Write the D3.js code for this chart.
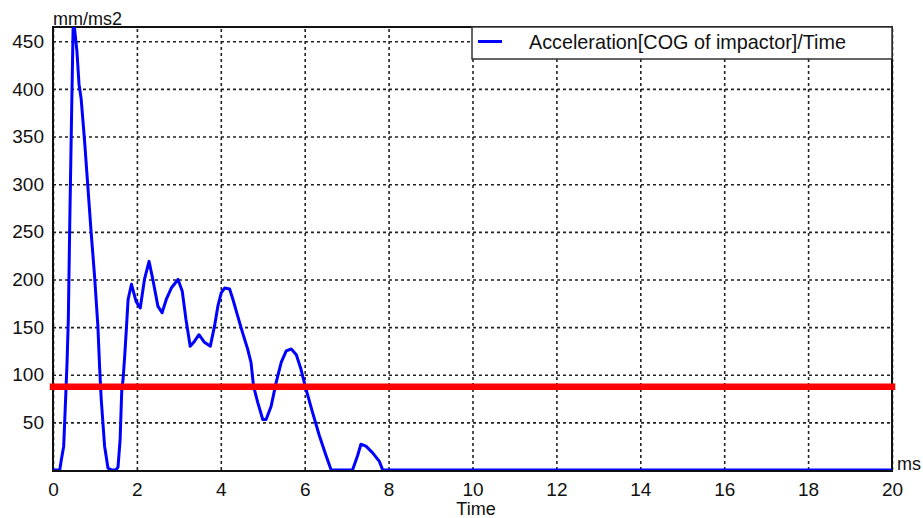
<!DOCTYPE html>
<html>
<head>
<meta charset="utf-8">
<script src="https://cdn.jsdelivr.net/npm/d3@7"></script>
<style>
  body { margin: 0; background: #fff; }
  text { font-family: "Liberation Sans", Arial, sans-serif; fill: #111; }
</style>
</head>
<body>
<svg width="923" height="518"></svg>
<script>
// acceleration of the impactor COG
const time = [0, 0.16, 0.20, 0.255, 0.30, 0.335, 0.365, 0.40, 0.44, 0.48, 0.50, 0.54, 0.57, 0.62, 0.67,
  0.75, 0.83, 0.91, 0.99, 1.07, 1.11, 1.15, 1.23, 1.31, 1.40, 1.50, 1.55, 1.60, 1.64, 1.67, 1.71,
  1.75, 1.79, 1.87, 1.98, 2.08, 2.18, 2.29, 2.38, 2.50, 2.60, 2.70, 2.82, 2.98, 3.08, 3.17, 3.27,
  3.37, 3.48, 3.61, 3.75, 3.85, 3.93, 4.01, 4.09, 4.21, 4.29, 4.40, 4.52, 4.64, 4.72, 4.78, 4.88,
  5.00, 5.08, 5.20, 5.32, 5.44, 5.56, 5.68, 5.80, 5.91, 6.03, 6.19, 6.35, 6.51, 6.63, 7.14, 7.26,
  7.34, 7.46, 7.62, 7.78, 7.86, 20];
const accel = [0, 0, 11, 25, 74, 113, 158, 260, 365, 466, 470, 452, 440, 405, 390,
  347, 298, 249, 204, 151, 109, 74, 25, 2, 0, 0, 3, 32, 85, 95, 120,
  149, 179, 195, 177, 170, 200, 219, 200, 172, 165, 179, 191, 200, 188, 158, 130,
  135, 142, 134, 130, 151, 172, 186, 191, 190, 179, 162, 144, 127, 113, 88, 71,
  53, 53, 67, 92, 113, 125, 127, 121, 106, 85, 60, 36, 15, 0, 0, 15,
  27, 25, 18, 9, 0, 0];
const threshold = 87.5;
const yTicks = [50, 100, 150, 200, 250, 300, 350, 400, 450];
const xTicks = [0, 2, 4, 6, 8, 10, 12, 14, 16, 18, 20];
const seriesName = "Acceleration[COG of impactor]/Time";

const margin = {top: 27, right: 31, bottom: 48, left: 53};
const width = 923, height = 518;
const data = time.map((t, i) => ({t, v: accel[i]}));

const svg = d3.select("svg");

const x = d3.scaleLinear().domain([0, 20]).range([margin.left, width - margin.right]);
const y = d3.scaleLinear().domain([0, 465]).range([height - margin.bottom, margin.top]);

svg.append("clipPath").attr("id", "plot")
  .append("rect")
  .attr("x", margin.left).attr("y", margin.top)
  .attr("width", x(20) - x(0)).attr("height", y(0) - y(465));

// grid + tick labels
const gy = svg.append("g")
  .attr("transform", `translate(${margin.left},0)`)
  .call(d3.axisLeft(y).tickValues(yTicks).tickSize(-(x(20) - x(0))).tickPadding(9));
const gx = svg.append("g")
  .attr("transform", `translate(0,${y(0)})`)
  .call(d3.axisBottom(x).tickValues(xTicks).tickSize(-(y(0) - y(465))).tickPadding(9));

for (const g of [gy, gx]) {
  g.select(".domain").remove();
  g.selectAll(".tick line")
    .attr("stroke", "#222")
    .attr("stroke-width", 1.6)
    .attr("stroke-dasharray", "3,3");
  g.selectAll(".tick text")
    .attr("fill", "#111")
    .style("font-size", "19px")
    .style("font-family", "'Liberation Sans', Arial, sans-serif");
}
gx.selectAll(".tick text").attr("dy", "0.9em");

// frame
svg.append("rect")
  .attr("x", x(0)).attr("y", y(465))
  .attr("width", x(20) - x(0)).attr("height", y(0) - y(465) + 1)
  .attr("fill", "none").attr("stroke", "#111").attr("stroke-width", 2);

// series
const line = d3.line().x(d => x(d.t)).y(d => y(d.v));
svg.append("path")
  .datum(data)
  .attr("clip-path", "url(#plot)")
  .attr("fill", "none")
  .attr("stroke", "#0000ff")
  .attr("stroke-width", 3)
  .attr("stroke-linejoin", "round")
  .attr("d", line);

// threshold
svg.append("line")
  .attr("x1", x(0)).attr("x2", x(20))
  .attr("y1", y(threshold)).attr("y2", y(threshold))
  .attr("stroke", "#ff0000")
  .attr("stroke-width", 6.5)
  .attr("stroke-linecap", "square");

// legend
const lg = svg.append("g");
lg.append("rect")
  .attr("x", 472).attr("y", margin.top)
  .attr("width", x(20) - 472).attr("height", 32)
  .attr("fill", "#fff").attr("stroke", "#333").attr("stroke-width", 1.5);
lg.append("line")
  .attr("x1", 478).attr("x2", 502).attr("y1", 41.5).attr("y2", 41.5)
  .attr("stroke", "#0000ff").attr("stroke-width", 3);
lg.append("text")
  .attr("x", 529).attr("y", 48.5)
  .style("font-size", "19.8px")
  .text(seriesName);

// axis titles
svg.append("text").attr("x", margin.left).attr("y", 25)
  .style("font-size", "18px").text("mm/ms2");
svg.append("text").attr("x", 897).attr("y", 470)
  .style("font-size", "18px").text("ms");
svg.append("text").attr("x", 476).attr("y", 515)
  .attr("text-anchor", "middle")
  .style("font-size", "18px").text("Time");
</script>
</body>
</html>
